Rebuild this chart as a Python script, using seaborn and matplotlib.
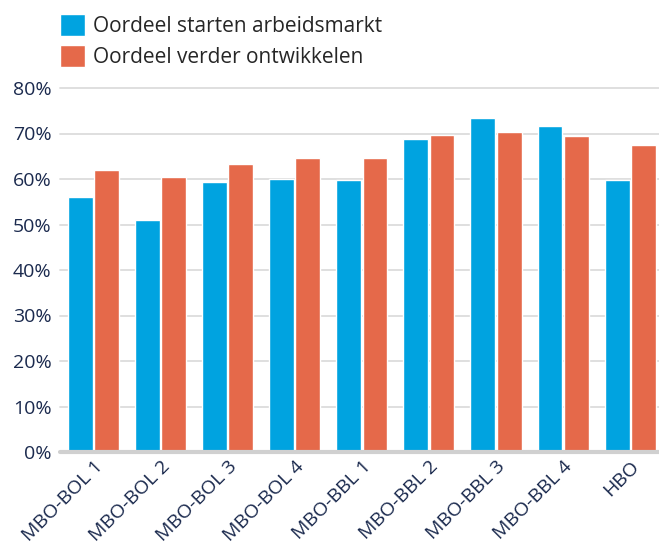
import pandas as pd
import seaborn as sns
import matplotlib.pyplot as plt
from matplotlib.patches import Patch

categories = ['MBO-BOL 1', 'MBO-BOL 2', 'MBO-BOL 3', 'MBO-BOL 4', 'MBO-BBL 1',
              'MBO-BBL 2', 'MBO-BBL 3', 'MBO-BBL 4', 'HBO']
starten = [56, 51, 59.3, 60.1, 59.7, 68.8, 73.3, 71.7, 59.7]
ontwikkelen = [61.9, 60.4, 63.3, 64.6, 64.6, 69.7, 70.4, 69.5, 67.5]
series_names = ['Oordeel starten arbeidsmarkt', 'Oordeel verder ontwikkelen']
y_ticks = [0, 10, 20, 30, 40, 50, 60, 70, 80]

df = pd.DataFrame({
    'categorie': categories * 2,
    'reeks': [series_names[0]] * len(categories) + [series_names[1]] * len(categories),
    'waarde': starten + ontwikkelen,
})

sns.set_style('white')
plt.rcParams['font.family'] = ['Open Sans', 'DejaVu Sans']

blue = '#00a3e0'
red = '#e5694a'
navy = '#1b2a4e'

fig = plt.figure(figsize=(6.59, 5.42), dpi=100)
ax = fig.add_axes([60 / 659, 90 / 542, 599 / 659, 364 / 542])

sns.barplot(data=df, x='categorie', y='waarde', hue='reeks', order=categories,
            hue_order=series_names, palette=[blue, red], width=0.78, gap=0.05,
            saturation=1, ax=ax, legend=False, zorder=3)

ax.set_ylim(0, 80)
ax.set_xlim(-0.5, 8.43)
ax.set_yticks(y_ticks)
ax.set_yticklabels([f'{t}%' for t in y_ticks])
for t in y_ticks[1:]:
    ax.axhline(t, color='#dcdcdc', lw=1.3, zorder=1, clip_on=False)
ax.axhline(0, color='#d0d0d0', lw=3, zorder=4, clip_on=False)

for s in ax.spines.values():
    s.set_visible(False)
ax.tick_params(axis='both', length=0, labelsize=14, labelcolor=navy)
ax.tick_params(axis='y', pad=6)
ax.tick_params(axis='x', pad=4)
plt.setp(ax.get_xticklabels(), rotation=45, ha='right', rotation_mode='anchor')
ax.set_xlabel('')
ax.set_ylabel('')

handles = [Patch(facecolor=blue), Patch(facecolor=red)]
fig.legend(handles, series_names, loc='upper left', bbox_to_anchor=(54 / 659, 1 - 8 / 542),
           frameon=False, fontsize=15, handlelength=1.2, handleheight=1.2,
           handletextpad=0.35, labelspacing=0.4, borderaxespad=0, borderpad=0.3)

fig.savefig('out.png', dpi=100)
plt.close(fig)
